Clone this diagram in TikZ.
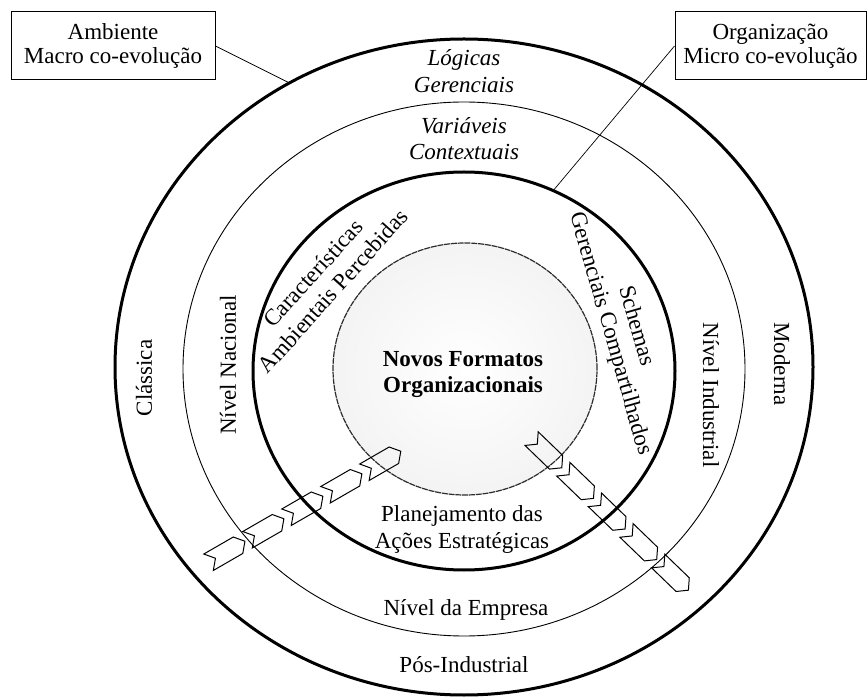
\documentclass[tikz,border=0pt]{standalone}
\usepackage{fontspec}
\setmainfont{Liberation Serif}
\usetikzlibrary{shapes.symbols}
\begin{document}
\begin{tikzpicture}[x=1pt,y=-1pt,
  every node/.style={font=\fontsize{23}{26.5}\selectfont, inner sep=0pt},
  thickring/.style={line width=3pt},
  thinring/.style={line width=0.9pt},
  lbl/.style={align=center},
  chev/.style={draw, line width=1pt, shape=signal, signal to=east, signal from=west,
    signal pointer angle=100, minimum width=42pt, minimum height=19pt, inner sep=0pt},
  boxlbl/.style={draw, line width=1pt, minimum height=68pt, align=center,
    font=\fontsize{23}{24.5}\selectfont},
  conn/.style={line width=0.7pt}]
\useasboundingbox (0,0) rectangle (868,700);
% inner shaded disc
\shade[inner color=white, outer color=gray!9] (465,369) ellipse [x radius=132pt, y radius=126pt];
\draw[gray!35!black, line width=1.2pt, dash pattern=on 6pt off 0.8pt] (465,369) ellipse [x radius=132pt, y radius=126pt];
% rings
\draw[thickring] (464,367) ellipse [x radius=349pt, y radius=328pt];
\draw[thinring] (464,369) ellipse [x radius=281pt, y radius=267pt];
\draw[thickring] (464,371) ellipse [x radius=211pt, y radius=199pt];
% boxes and connectors
\node[boxlbl, minimum width=204pt] (ambox) at (113,46) {Ambiente\\Macro co-evolução};
\node[boxlbl, minimum width=191pt] (orgbox) at (770.5,46) {Organização\\Micro co-evolução};
\coordinate (outerpt) at (289.5,83);
\coordinate (innerpt) at (553.2,190.6);
\draw[conn] (ambox.east) -- (outerpt);
\draw[conn] (orgbox.west) -- (innerpt);
% labels
\node[lbl, font=\fontsize{23}{27}\itshape] (logicas) at (464,71) {Lógicas\\Gerenciais};
\node[lbl, font=\fontsize{23}{26}\itshape] (variaveis) at (464,139) {Variáveis\\Contextuais};
\node[rotate=90] (classica) at (144,378) {Clássica};
\node[rotate=-90] (moderna) at (782,364) {Moderna};
\node[rotate=90] (nacional) at (228,365) {Nível Nacional};
\node[rotate=-90] (industrial) at (711,395) {Nível Industrial};
\node[lbl, rotate=48] (caract) at (323,282) {Características\\Ambientais Percebidas};
\node[lbl, rotate=-74] (schemas) at (623,330) {Schemas\\Gerenciais Compartilhados};
\node[lbl, font=\fontsize{23}{26}\bfseries] (novos) at (463,374.5) {Novos Formatos\\Organizacionais};
\node[lbl] (planej) at (462,529.5) {Planejamento das\\Ações Estratégicas};
\node[anchor=base] (empresa) at (466,615) {Nível da Empresa};
\node[anchor=base] (pos) at (464,672) {Pós-Industrial};
% chevron chains
\foreach \i/\x/\y in {1/226.75/551.75, 2/265.7/529.25, 3/304.7/506.75, 4/343.7/484.25, 5/382.6/461.75}
  \node[chev, rotate=30] (la\i) at (\x,\y) {};
\foreach \i/\x/\y in {1/546.7/453.2, 2/578.4/483.8, 3/610.0/514.4, 4/641.6/545.0, 5/673.3/575.6}
  \node[chev, rotate=-44] (ra\i) at (\x,\y) {};
\end{tikzpicture}
\end{document}
